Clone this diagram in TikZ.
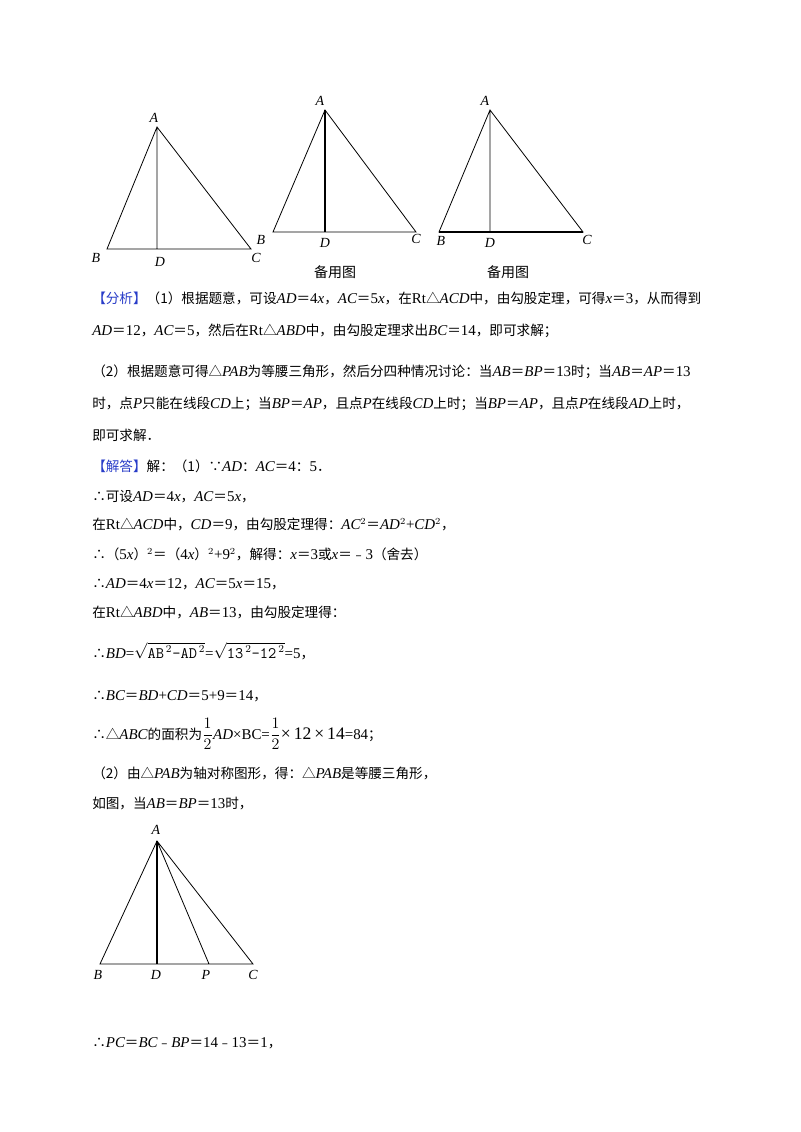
\documentclass[tikz,border=0pt]{standalone}
\usepackage{fontspec}
\setmainfont{Noto Sans CJK SC}
\newfontfamily\lser[Scale=1.1]{Liberation Serif}
\newcommand\mi[1]{{\lser\itshape #1}}
\newcommand\rn[1]{{\lser #1}}
\definecolor{hb}{RGB}{40,60,200}
\begin{document}
\begin{tikzpicture}[x=0.75pt,y=-0.75pt,
  tri/.style={line width=0.6pt},
  lab/.style={font=\lser\itshape\fontsize{9.5}{12}\selectfont,inner sep=0pt},
  captext/.style={font=\fontsize{10.5}{12}\selectfont,inner sep=0pt},
  ln/.style={anchor=base west,inner sep=0pt,font=\fontsize{10.2}{13}\selectfont}]
\useasboundingbox[fill=white] (0,0) rectangle (800,1132);
% figure 1
\coordinate (A1) at (157,127); \coordinate (B1) at (107,249); \coordinate (D1) at (157,249); \coordinate (C1) at (251,249);
\draw[tri] (A1)--(B1)--(C1)--cycle (A1)--(D1);
\node[lab] (la1) at (154,118) {A}; \node[lab] (lb1) at (96,258) {B}; \node[lab] (ld1) at (160,262) {D}; \node[lab] (lc1) at (256,258) {C};
% figure 2
\coordinate (A2) at (325,110); \coordinate (B2) at (273,232); \coordinate (D2) at (325,232); \coordinate (C2) at (416,232);
\draw[tri] (A2)--(B2)--(C2)--cycle; \draw[line width=0.9pt] (A2)--(D2);
\node[lab] (la2) at (320,101) {A}; \node[lab] (lb2) at (261,240) {B}; \node[lab] (ld2) at (325,243) {D}; \node[lab] (lc2) at (416,239) {C};
\node[captext] (cap2) at (335,272) {备用图};
% figure 3
\coordinate (A3) at (490,110); \coordinate (B3) at (439,232); \coordinate (D3) at (490,232); \coordinate (C3) at (583,232);
\draw[tri] (A3)--(B3)--(C3)--cycle (A3)--(D3);
\draw[line width=0.9pt] (B3)--(C3);
\node[lab] (la3) at (485,101) {A}; \node[lab] (lb3) at (441,241) {B}; \node[lab] (ld3) at (490,243) {D}; \node[lab] (lc3) at (587,240) {C};
\node[captext] (cap3) at (508,272) {备用图};
% text
\node[ln] (t1) at (92,303) {\textcolor{hb}{【分析】}（1）根据题意，可设\mi{AD}＝\rn{4}\mi{x}，\mi{AC}＝\rn{5}\mi{x}，在\rn{Rt}△\mi{ACD}中，由勾股定理，可得\mi{x}＝\rn{3}，从而得到};
\node[ln] (t2) at (92,335) {\mi{AD}＝\rn{12}，\mi{AC}＝\rn{5}，然后在\rn{Rt}△\mi{ABD}中，由勾股定理求出\mi{BC}＝\rn{14}，即可求解；};
\node[ln] (t3) at (92,376) {（2）根据题意可得△\mi{PAB}为等腰三角形，然后分四种情况讨论：当\mi{AB}＝\mi{BP}＝\rn{13}时；当\mi{AB}＝\mi{AP}＝\rn{13}};
\node[ln] (t4) at (92,408) {时，点\mi{P}只能在线段\mi{CD}上；当\mi{BP}＝\mi{AP}，且点\mi{P}在线段\mi{CD}上时；当\mi{BP}＝\mi{AP}，且点\mi{P}在线段\mi{AD}上时，};
\node[ln] (t5) at (92,440) {即可求解．};
\node[ln] (t6) at (92,471) {\textcolor{hb}{【解答】}解：（1）∵\mi{AD}：\mi{AC}＝\rn{4}：\rn{5}．};
\node[ln] (t7) at (92,501) {∴可设\mi{AD}＝\rn{4}\mi{x}，\mi{AC}＝\rn{5}\mi{x}，};
\node[ln] (t8) at (92,529) {在\rn{Rt}△\mi{ACD}中，\mi{CD}＝\rn{9}，由勾股定理得：\mi{AC}$^2$＝\mi{AD}$^2$\rn{+}\mi{CD}$^2$，};
\node[ln] (t9) at (92,559) {∴（\rn{5}\mi{x}）$^2$＝（\rn{4}\mi{x}）$^2$\rn{+9}$^2$，解得：\mi{x}＝\rn{3}或\mi{x}＝﹣\rn{3}（舍去）};
\node[ln] (t10) at (92,588) {∴\mi{AD}＝\rn{4}\mi{x}＝\rn{12}，\mi{AC}＝\rn{5}\mi{x}＝\rn{15}，};
\node[ln] (t11) at (92,617) {在\rn{Rt}△\mi{ABD}中，\mi{AB}＝\rn{13}，由勾股定理得：};
\node[ln] (t12) at (92,658) {∴\mi{BD}\rn{=}{\large$\sqrt{\texttt{AB}^{\,2}\texttt{-AD}^{\,2}}$}\rn{=}{\large$\sqrt{\texttt{13}^{\,2}\texttt{-12}^{\,2}}$}\rn{=5}，};
\node[ln] (t13) at (92,700) {∴\mi{BC}＝\mi{BD}\rn{+}\mi{CD}＝\rn{5+9}＝\rn{14}，};
\node[ln] (t14) at (92,739) {∴△\mi{ABC}的面积为{\large$\displaystyle\frac{1}{2}$}\mi{AD}\rn{×BC=}{\large$\displaystyle\frac{1}{2}$}{\large\rn{×\,12\,×\,14}}\rn{=84}；};
\node[ln] (t15) at (92,778) {（2）由△\mi{PAB}为轴对称图形，得：△\mi{PAB}是等腰三角形，};
\node[ln] (t16) at (92,808) {如图，当\mi{AB}＝\mi{BP}＝\rn{13}时，};
\node[ln] (t17) at (92,1047) {∴\mi{PC}＝\mi{BC}﹣\mi{BP}＝\rn{14}﹣\rn{13}＝\rn{1}，};
% figure 4
\coordinate (A4) at (157,841); \coordinate (B4) at (100,964); \coordinate (D4) at (157,964); \coordinate (P4) at (209,964); \coordinate (C4) at (253,964);
\draw[tri] (A4)--(B4)--(C4)--cycle (A4)--(P4);
\draw[line width=1pt] (A4)--(D4);
\node[lab] (la4) at (156,830) {A}; \node[lab] (lb4) at (98,975) {B}; \node[lab] (ld4) at (156,975) {D}; \node[lab] (lp4) at (206,975) {P}; \node[lab] (lc4) at (253,975) {C};
\end{tikzpicture}
\end{document}
